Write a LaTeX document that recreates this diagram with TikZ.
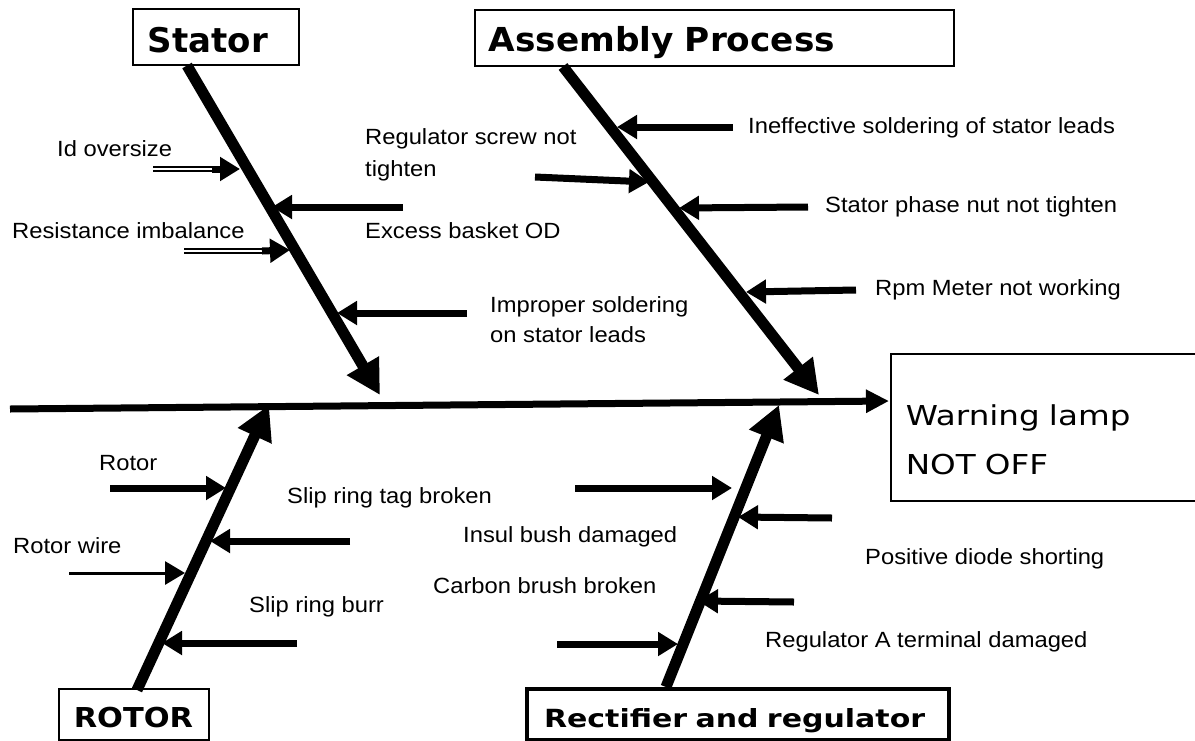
\documentclass[tikz,border=0pt]{standalone}
\usepackage{fontspec}
\setmainfont{Liberation Sans}[FakeStretch=1.08]
\newfontfamily\titrefont{DejaVu Sans Bold}
\newfontfamily\titrefontA{DejaVu Sans Bold}[FakeStretch=1.04]
\newfontfamily\titrefontB{DejaVu Sans Bold}[FakeStretch=1.11]
\newfontfamily\titrefontC{DejaVu Sans Bold}[FakeStretch=1.2]
\newfontfamily\lampefont{DejaVu Sans}[FakeStretch=1.19]
\usetikzlibrary{arrows.meta,calc}

\tikzset{
  epine/.style={line width=7pt, -{Triangle[length=23pt,width=22pt]}},
  arete/.style={line width=11pt, -{Triangle[length=34pt,width=35pt]}},
  fleche/.style={line width=7pt, -{Triangle[length=20pt,width=23pt]}},
  doublefleche/.style={double, double distance=2.5pt, line width=1.5pt},
  cause/.style={anchor=base west, inner sep=0pt, font=\fontsize{22}{32}\selectfont},
  boite/.style={draw, line width=1.5pt, anchor=north west, inner sep=0pt, align=left},
}

\begin{document}
\begin{tikzpicture}[x=1pt,y=-1pt]
  \useasboundingbox (0,0) rectangle (1195,740);

  % Les boites des categories et de l'effet
  \node[boite, inner xsep=15pt, text width=136pt, text height=44pt, text depth=12pt,
        font=\titrefont\fontsize{34}{40}\selectfont] (stator) at (132,8) {Stator};
  \node[boite, inner xsep=14pt, text width=451pt, text height=42pt, text depth=14pt,
        font=\titrefontA\fontsize{33}{38}\selectfont] (assembly) at (474,9) {Assembly Process};
  \node[boite, inner xsep=15pt, text width=120pt, text height=39pt, text depth=12pt,
        font=\titrefontB\fontsize{27.4}{33}\selectfont] (rotor) at (58,688) {ROTOR};
  \node[boite, line width=4pt, inner xsep=17pt, text width=388pt, text height=38pt, text depth=13pt,
        font=\titrefontC\fontsize{25}{30}\selectfont] (rect) at (525,687) {Rectifier and regulator};
  \node[boite, inner xsep=15pt, text width=330pt, text height=72pt, text depth=75pt,
        font=\lampefont\fontsize{27.4}{49}\selectfont] (lampe) at (890,353) {Warning lamp\\NOT OFF};

  % L'arete principale
  \coordinate (queue) at (10,409);
  \coordinate (effet) at (889,401);
  \draw[epine] (queue) -- (effet);

  % Les aretes des categories
  \coordinate (pStator) at (380,395);
  \coordinate (pAssembly) at (819,395);
  \coordinate (pRotor) at (269,405);
  \coordinate (pRect) at (779,405);
  \draw[arete] ($(stator.south west)+(55,0)$) -- (pStator);
  \draw[arete] ($(assembly.south west)+(89,0)$) -- (pAssembly);
  \draw[arete] ($(rotor.north west)+(79,2)$) -- (pRotor);
  \draw[arete] ($(rect.north west)+(141,0)$) -- (pRect);

  % Causes du stator
  \coordinate (s1a) at (153,169); \coordinate (s1m) at (212,169); \coordinate (s1b) at (240,169);
  \coordinate (s2a) at (184,251); \coordinate (s2m) at (262,251); \coordinate (s2b) at (290,250);
  \coordinate (s3a) at (403,207); \coordinate (s3b) at (272,207);
  \coordinate (s4a) at (467,313); \coordinate (s4b) at (337,313);
  \draw[doublefleche] (s1a) -- (s1m);
  \draw[fleche] (s1m) -- (s1b);
  \draw[doublefleche] (s2a) -- (s2m);
  \draw[fleche] (s2m) -- (s2b);
  \draw[fleche] (s3a) -- (s3b);
  \draw[fleche] (s4a) -- (s4b);
  \node[cause] (l1) at (57,156) {Id oversize};
  \node[cause] (l2) at (12,238) {Resistance imbalance};
  \node[cause] (l4) at (365,238) {Excess basket OD};
  \node[cause, align=left] (l5) at (490,342) {Improper soldering\\[-2pt]on stator leads};

  % Causes du process
  \coordinate (a1a) at (535,177); \coordinate (a1b) at (649,182);
  \coordinate (a2a) at (733,127); \coordinate (a2b) at (617,127);
  \coordinate (a3a) at (808,207); \coordinate (a3b) at (679,208);
  \coordinate (a4a) at (856,290); \coordinate (a4b) at (746,292);
  \foreach \c in {a1,a2,a3,a4}
    \draw[fleche] (\c a) -- (\c b);
  \node[cause, align=left] (l3) at (365,176) {Regulator screw not\\tighten};
  \node[cause] (l6) at (748,133) {Ineffective soldering of stator leads};
  \node[cause] (l7) at (825,212) {Stator phase nut not tighten};
  \node[cause] (l8) at (875,295) {Rpm Meter not working};

  % Causes du rotor
  \coordinate (r1a) at (110,488); \coordinate (r1b) at (226,488);
  \coordinate (r2a) at (69,573); \coordinate (r2b) at (185,573);
  \coordinate (r3a) at (350,541); \coordinate (r3b) at (210,541);
  \coordinate (r4a) at (297,643); \coordinate (r4b) at (162,643);
  \draw[fleche] (r1a) -- (r1b);
  \draw[fleche, line width=3pt] (r2a) -- (r2b);
  \draw[fleche] (r3a) -- (r3b);
  \draw[fleche] (r4a) -- (r4b);
  \node[cause] (l9) at (99,470) {Rotor};
  \node[cause] (l10) at (13,553) {Rotor wire};
  \node[cause] (l11) at (287,503) {Slip ring tag broken};
  \node[cause] (l12) at (249,612) {Slip ring burr};

  % Causes du redresseur
  \coordinate (g1a) at (575,488); \coordinate (g1b) at (732,488);
  \coordinate (g2a) at (832,518); \coordinate (g2b) at (738,517);
  \coordinate (g3a) at (794,602); \coordinate (g3b) at (698,601);
  \coordinate (g4a) at (557,644); \coordinate (g4b) at (678,644);
  \foreach \c in {g1,g2,g3,g4}
    \draw[fleche] (\c a) -- (\c b);
  \node[cause] (l13) at (463,542) {Insul bush damaged};
  \node[cause] (l14) at (433,593) {Carbon brush broken};
  \node[cause] (l15) at (865,564) {Positive diode shorting};
  \node[cause] (l16) at (765,647) {Regulator A terminal damaged};
\end{tikzpicture}
\end{document}
